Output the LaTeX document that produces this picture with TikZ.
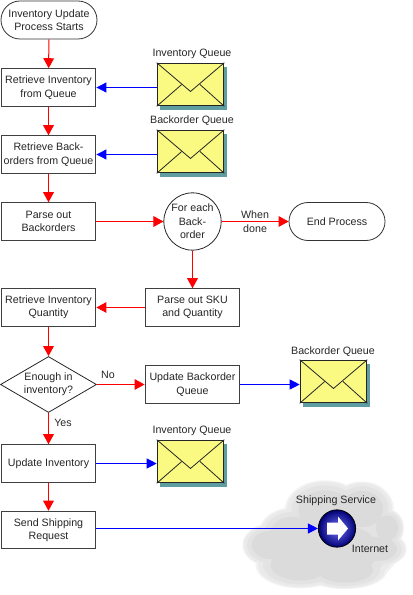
\documentclass[tikz,border=0pt]{standalone}
\usepackage{fontspec}
\setmainfont{Liberation Sans}
\usepackage{tikz}
\usetikzlibrary{arrows.meta,shapes.geometric,shapes.misc,shadows,calc}

\definecolor{txtgray}{HTML}{262626}
\definecolor{envyellow}{HTML}{FAFA82}
\definecolor{envshadow}{HTML}{5F9EA0}

\tikzset{
  every node/.style={font=\fontsize{8}{10}\selectfont, text=txtgray, align=center},
  procbox/.style={draw=black!75, line width=0.9pt, fill=white, minimum width=71pt, minimum height=28pt, inner sep=0pt},
  termbox/.style={rounded rectangle, draw=black!80, line width=0.6pt, fill=white, minimum width=72pt, minimum height=28.5pt, inner sep=0pt},
  envelope/.style={draw=black!85, line width=0.7pt, fill=envyellow, minimum width=50pt, minimum height=32pt, inner sep=0pt,
    drop shadow={shadow xshift=2.4pt, shadow yshift=-3pt, fill=envshadow, opacity=1}},
  flapline/.style={draw=black!85, line width=0.6pt},
  redline/.style={draw=red, line width=0.75pt, -{Triangle[length=7.5pt,width=8pt]}},
  blueline/.style={draw=blue, line width=0.75pt, -{Triangle[length=7.5pt,width=7.5pt]}},
  cloudpart/.style={draw=none}
}

\begin{document}
\begin{tikzpicture}[x=0.75pt, y=-0.75pt]
  \useasboundingbox (0,0) rectangle (413,595);

  % Cloud
  \foreach \shade/\grow in {F2F2F2/1.06, EAEAEA/1.0, E3E3E3/0.88, DBDBDB/0.7} {
    \definecolor{cloudfill}{HTML}{\shade}
    \foreach \cx/\cy/\rx/\ry in {
      270/545/26/20, 292/535/32/26, 325/510/38/28, 362/509/30/26, 378/549/27/17,
      340/550/55/36, 300/565/42/22, 345/570/40/18, 387/528/16/18} {
      \fill[cloudfill, cloudpart] (\cx,\cy) ellipse ({\rx*\grow} and {\ry*\grow});
    }
  }

  % Process boxes
  \node[termbox] (start) at (49,20) {Inventory Update\\Process Starts};
  \node[procbox] (getinv) at (48.5,87.5) {Retrieve Inventory\\from Queue};
  \node[procbox] (getback) at (48.5,154.5) {Retrieve Back-\\orders from Queue};
  \node[procbox] (parse) at (48.5,221.5) {Parse out\\Backorders};
  \node[procbox] (getqty) at (48.5,307.5) {Retrieve Inventory\\Quantity};
  \node[diamond, draw=black!85, line width=0.6pt, fill=white, aspect=1.71, minimum width=72pt, minimum height=42pt, inner sep=0pt] (enough) at (48.5,384.5) {Enough in\\inventory?};
  \node[procbox] (updinv) at (48.5,463.5) {Update Inventory};
  \node[procbox] (send) at (48.5,530) {Send Shipping\\Request};
  \node[circle, draw=black!85, line width=0.6pt, fill=white, minimum size=43pt, inner sep=0pt] (foreach) at (192.5,221.5) {For each\\Back-\\order};
  \node[termbox] (endproc) at (337,221.5) {End Process};
  \node[procbox] (parsesku) at (192.5,307.5) {Parse out SKU\\and Quantity};
  \node[procbox] (updback) at (192.5,384.5) {Update Backorder\\Queue};

  % Queues
  \node[envelope] (invq) at (190.5,84.5) {};
  \node[envelope] (backq) at (190.5,151.5) {};
  \node[envelope] (backqb) at (333.5,381.5) {};
  \node[envelope] (invqb) at (190.5,461.5) {};
  \foreach \e in {invq,backq,backqb,invqb} {
    \draw[flapline] (\e.north west) -- ($(\e.north)!0.66!(\e.south)$) -- (\e.north east);
    \draw[flapline] (\e.south west) -- ($(\e.west)!0.37!(\e.east)$);
    \draw[flapline] (\e.south east) -- ($(\e.east)!0.36!(\e.west)$);
  }
  \node (invqtxt) at (192,54) {Inventory Queue};
  \node (backqtxt) at (192,121) {Backorder Queue};
  \node (backqbtxt) at (333,352) {Backorder Queue};
  \node (invqbtxt) at (192,431) {Inventory Queue};

  % Shipping service
  \node[circle, draw=black, line width=0.6pt, minimum size=28pt, inner sep=0pt, inner color=blue!55!white, outer color=blue!45!black] (ship) at (337,528.5) {};
  \fill[white] ($(ship)+(-10,-6)$) -- ($(ship)+(1,-6)$) -- ($(ship)+(1,-12)$) -- ($(ship)+(11,0)$) -- ($(ship)+(1,12)$) -- ($(ship)+(1,6)$) -- ($(ship)+(-10,6)$) -- cycle;
  \node (shiptxt) at (336,501) {Shipping Service};
  \node (nettxt) at (370,549) {Internet};

  % Red flow
  \draw[redline] (start) -- (getinv);
  \draw[redline] (getinv) -- (getback);
  \draw[redline] (getback) -- (parse);
  \draw[redline] (parse) -- (foreach);
  \draw[redline] (foreach) -- (endproc) node[midway] (whentxt) {When\\[0.5pt]done};
  \draw[redline] (foreach) -- (parsesku);
  \draw[redline] (parsesku) -- (getqty);
  \draw[redline] (getqty) -- (enough);
  \draw[redline] (enough) -- (updback);
  \draw[redline] (enough) -- (updinv);
  \draw[redline] (updinv) -- (send);
  \node (notxt) at (108,375) {No};
  \node (yestxt) at (63,423) {Yes};

  % Blue flow
  \draw[blueline] (invq.west |- getinv) -- (getinv);
  \draw[blueline] (backq.west |- getback) -- (getback);
  \draw[blueline] (updback) -- (backqb.west |- updback);
  \draw[blueline] (updinv) -- (invqb.west |- updinv);
  \draw[blueline] (send.east |- ship) -- (ship);
\end{tikzpicture}
\end{document}
